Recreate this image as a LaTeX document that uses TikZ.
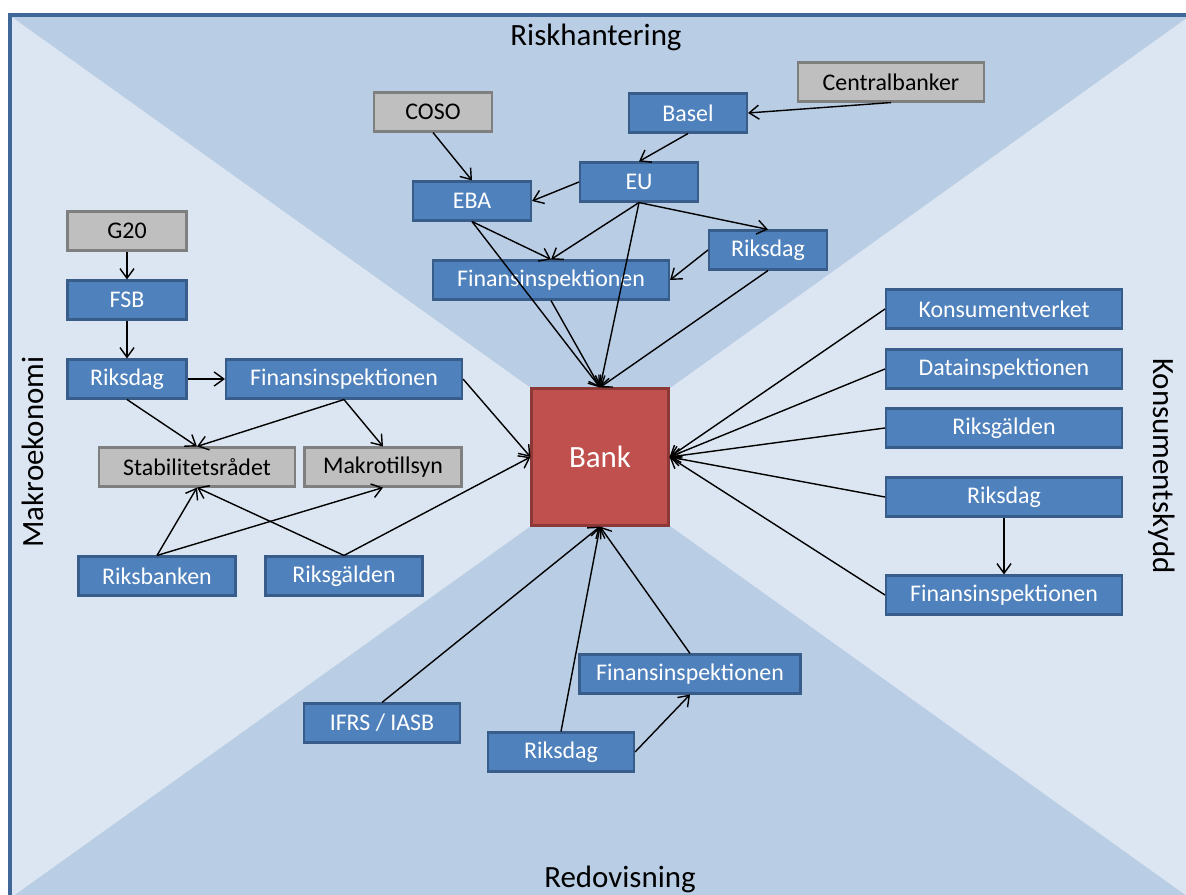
\documentclass[tikz,border=0pt]{standalone}
\usepackage{fontspec}
\setmainfont{Carlito}
\usetikzlibrary{arrows.meta}
\definecolor{bglight}{HTML}{DCE6F2}
\definecolor{bgdark}{HTML}{B9CDE5}
\definecolor{frameblue}{HTML}{3F6797}
\definecolor{boxblue}{HTML}{4F81BD}
\definecolor{blueline}{HTML}{385D8A}
\definecolor{boxgrey}{HTML}{BFBFBF}
\definecolor{greyline}{HTML}{7F7F7F}
\definecolor{bankred}{HTML}{C0504D}
\definecolor{bankline}{HTML}{8C3836}
\begin{document}
\begin{tikzpicture}[x=0.02cm,y=-0.02cm,
  box/.style={draw=blueline, fill=boxblue, line width=1.2pt, text=white, inner sep=0pt,
    minimum height=0.78cm, font=\fontsize{13.6}{15}\selectfont},
  gbox/.style={box, draw=greyline, fill=boxgrey, text=black},
  arr/.style={-{Straight Barb[length=5.5pt,width=8pt]}, line width=0.8pt},
  lbl/.style={font=\fontsize{17.6}{20}\selectfont}]
\useasboundingbox (0,0) rectangle (1186,895);
\clip (0,0) rectangle (1186,895);
% background
\fill[bglight] (10,15) rectangle (1190,899);
\fill[bgdark] (12,17) -- (1188,17) -- (670,388) -- (531,388) -- cycle;
\fill[bgdark] (12,897) -- (1188,897) -- (670,526) -- (531,526) -- cycle;
\draw[frameblue, line width=2.3pt] (10,15) rectangle (1190,899);
\node[lbl, anchor=base] (risk) at (596,46) {Riskhantering};
\node[lbl, anchor=base] (redo) at (620,887) {Redovisning};
\node[lbl, rotate=90] (makro_l) at (33,452) {Makroekonomi};
\node[lbl, rotate=-90] (kons_l) at (1162,466) {Konsumentskydd};
% bank
\node[draw=bankline, fill=bankred, line width=1.2pt, text=white, minimum width=2.74cm,
  minimum height=2.74cm, font=\fontsize{17.6}{20}\selectfont] (bank) at (600,457) {Bank};
% riskhantering
\node[gbox, minimum width=3.72cm] (cb) at (891,82) {Centralbanker};
\node[gbox, minimum width=2.36cm] (coso) at (433,112) {COSO};
\node[box, minimum width=2.36cm] (basel) at (688,113) {Basel};
\node[box, minimum width=2.36cm] (eu) at (639,182) {EU};
\node[box, minimum width=2.36cm] (eba) at (472,201) {EBA};
\node[box, minimum width=2.36cm] (riksT) at (768,250) {Riksdag};
\node[box, minimum width=4.72cm] (fiT) at (551,280) {Finansinspektionen};
% makroekonomi
\node[gbox, minimum width=2.38cm] (g20) at (127,231) {G20};
\node[box, minimum width=2.38cm] (fsb) at (127,300) {FSB};
\node[box, minimum width=2.38cm] (riksL) at (127,379) {Riksdag};
\node[box, minimum width=4.72cm] (fiL) at (344,379) {Finansinspektionen};
\node[gbox, minimum width=3.92cm] (stab) at (197,467) {Stabilitetsrådet};
\node[gbox, minimum width=3.14cm] (makro) at (383,467) {Makrotillsyn};
\node[box, minimum width=3.14cm] (rbank) at (157,576) {Riksbanken};
\node[box, minimum width=3.14cm] (rgL) at (344,576) {Riksgälden};
% konsumentskydd
\node[box, minimum width=4.72cm] (kv) at (1004,309) {Konsumentverket};
\node[box, minimum width=4.72cm] (di) at (1004,369) {Datainspektionen};
\node[box, minimum width=4.72cm] (rgR) at (1004,428) {Riksgälden};
\node[box, minimum width=4.72cm] (riksR) at (1004,497) {Riksdag};
\node[box, minimum width=4.72cm] (fiR) at (1004,595) {Finansinspektionen};
% redovisning
\node[box, minimum width=4.42cm] (fiB) at (690,674) {Finansinspektionen};
\node[box, minimum width=3.12cm] (ifrs) at (382,723) {IFRS / IASB};
\node[box, minimum width=2.92cm] (riksB) at (561,752) {Riksdag};
% arrows
\draw[arr] (cb.south) -- (basel.east);
\draw[arr] (basel.south) -- (eu.north);
\draw[arr] (coso.south) -- (eba.north);
\draw[arr] (eu.west) -- (eba.east);
\draw[arr] (eu.south) -- (fiT.north);
\draw[arr] (eu.south) -- (riksT.north);
\draw[arr] (eu.south) -- (bank.north);
\draw[arr] (eba.south) -- (fiT.north);
\draw[arr] (eba.south) -- (bank.north);
\draw[arr] (riksT.west) -- (fiT.east);
\draw[arr] (riksT.south) -- (bank.north);
\draw[arr] (fiT.south) -- (bank.north);
\draw[arr] (g20) -- (fsb);
\draw[arr] (fsb) -- (riksL);
\draw[arr] (riksL) -- (fiL);
\draw[arr] (riksL.south) -- (stab.north);
\draw[arr] (fiL.south) -- (stab.north);
\draw[arr] (fiL.south) -- (makro.north);
\draw[arr] (fiL.east) -- (bank.west);
\draw[arr] (rbank.north) -- (stab.south);
\draw[arr] (rbank.north) -- (makro.south);
\draw[arr] (rgL.north) -- (stab.south);
\draw[arr] (rgL.north) -- (bank.west);
\foreach \n in {kv,di,rgR,riksR,fiR}
  \draw[arr] (\n.west) -- (bank.east);
\draw[arr] (riksR) -- (fiR);
\draw[arr] (ifrs.north) -- (bank.south);
\draw[arr] (riksB.north) -- (bank.south);
\draw[arr] (fiB.north) -- (bank.south);
\draw[arr] (riksB.east) -- (fiB.south);
\end{tikzpicture}
\end{document}
